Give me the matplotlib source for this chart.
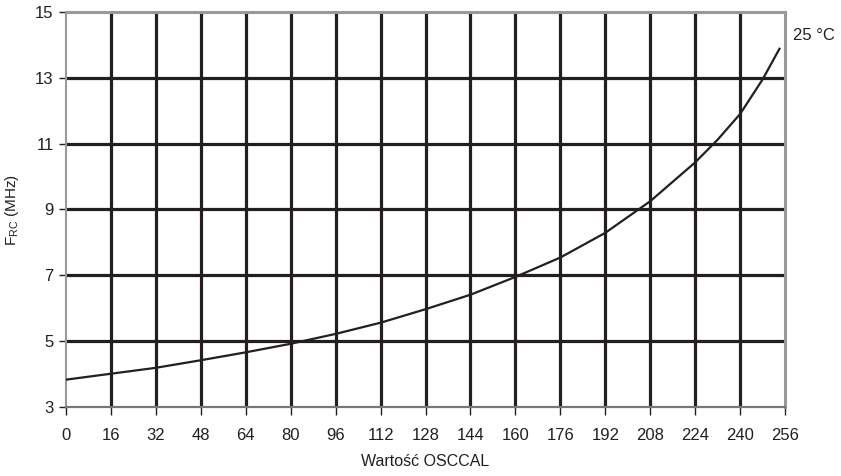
import matplotlib.pyplot as plt

plt.rcParams["font.family"] = ["Liberation Sans", "DejaVu Sans"]
plt.rcParams["mathtext.fontset"] = "custom"
plt.rcParams["mathtext.rm"] = "Liberation Sans"

# odczyt z wykresu
osccal = [0, 16, 32, 48, 64, 80, 96, 112, 128, 144, 160, 176, 192, 208, 224, 232, 240, 248, 254]
f_rc = [3.83, 4.01, 4.19, 4.42, 4.66, 4.92, 5.22, 5.56, 5.97, 6.41, 6.95, 7.54, 8.29,
        9.25, 10.43, 11.12, 11.9, 12.95, 13.88]

x_ticks = list(range(0, 257, 16))
y_ticks = [3, 5, 7, 9, 11, 13, 15]

ink = "#231f20"
frame = "#999999"

fig = plt.figure(figsize=(8.41, 4.76), dpi=100)
ax = fig.add_axes([0.0785, 0.145, 0.855, 0.830])

ax.set_xlim(0, 256)
ax.set_ylim(3, 15)
ax.set_xticks(x_ticks)
ax.set_yticks(y_ticks)

for x in x_ticks[1:-1]:
    ax.axvline(x, color=ink, linewidth=2.3, zorder=1)
for y in y_ticks[1:-1]:
    ax.axhline(y, color=ink, linewidth=2.3, zorder=1)

ax.plot(osccal, f_rc, color=ink, linewidth=1.6, zorder=3)

for side in ["top", "right"]:
    ax.spines[side].set_color(frame)
    ax.spines[side].set_linewidth(2.2)
ax.spines["left"].set_color(frame)
ax.spines["left"].set_linewidth(1.5)
ax.spines["bottom"].set_color("#777777")
ax.spines["bottom"].set_linewidth(1.6)

ax.tick_params(axis="x", direction="out", length=6, width=1, color=ink,
               labelsize=12, pad=9, labelcolor=ink)
ax.tick_params(axis="y", direction="out", length=5, width=1, color=ink,
               labelsize=12, pad=4, labelcolor=ink)

ax.set_xlabel("Wartość OSCCAL", fontsize=11.5, color=ink, labelpad=8)
ax.set_ylabel(r"F$_{\mathrm{RC}}$ (MHz)", fontsize=11, color=ink, labelpad=10)

ax.text(258.8, 14.27, "25 °C", fontsize=12, color=ink, va="center", ha="left",
        clip_on=False)

plt.savefig("out.png", dpi=100)
